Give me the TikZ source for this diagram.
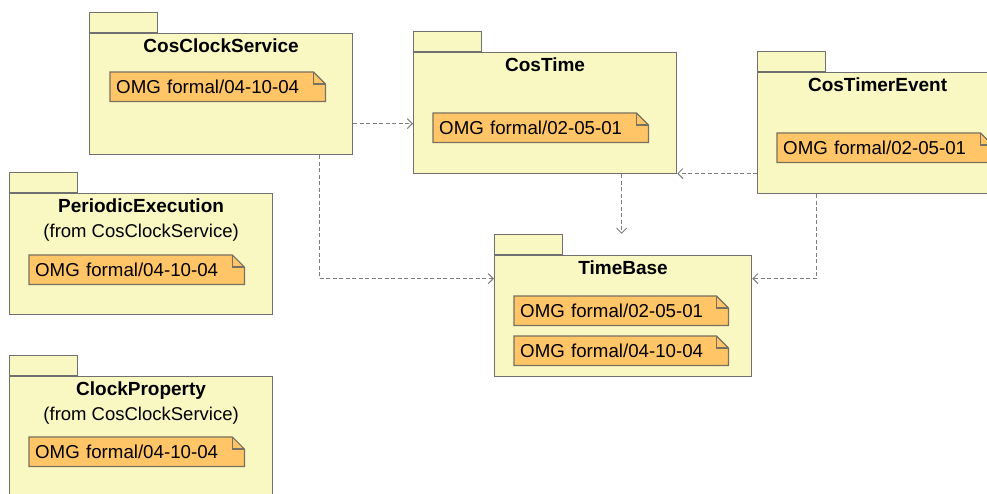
\documentclass[tikz,border=0pt]{standalone}
\usepackage{fontspec}
\setmainfont{Liberation Sans}
\usetikzlibrary{arrows.meta,positioning}
\definecolor{pkgFill}{RGB}{249,248,194}
\definecolor{pkgLine}{RGB}{112,112,112}
\definecolor{noteFill}{RGB}{255,197,102}
\definecolor{noteLine}{RGB}{120,112,96}
\definecolor{depLine}{RGB}{125,125,125}
\pgfdeclarelayer{pkgLayer}
\pgfdeclarelayer{noteLayer}
\pgfsetlayers{pkgLayer,noteLayer,main}
\tikzset{
  pkg/.style={draw=pkgLine, line width=1.2pt, fill=pkgFill, anchor=north west, minimum width=263pt, minimum height=121pt, inner sep=0pt},
  pkgtab/.style={draw=pkgLine, line width=1.2pt, fill=pkgFill, anchor=south west, minimum width=68pt, minimum height=20pt, inner sep=0pt},
  pkgtitle/.style={font=\bfseries\fontsize{19}{22}\selectfont, inner sep=0pt},
  pkgfrom/.style={font=\fontsize{18.5}{22}\selectfont, inner sep=0pt},
  notebox/.style={anchor=north west, minimum height=29pt, text width=203pt, inner xsep=6pt, inner ysep=0pt, align=left, font=\fontsize{18.7}{22}\selectfont},
  notefold/.style={draw=noteLine, line width=1.2pt, fill=noteFill},
  dep/.style={draw=depLine, line width=1pt, dash pattern=on 4pt off 2.5pt, -{Straight Barb[length=5pt,width=10pt]}}
}
\begin{document}
\begin{tikzpicture}[x=1pt, y=-1pt]
  \useasboundingbox (0,0) rectangle (987,493);
  \begin{pgfonlayer}{pkgLayer}
    \node[pkg] (cs) at (89,33) {};
    \node[pkg] (ct) at (413,52) {};
    \node[pkg, minimum width=240pt] (te) at (757,72) {};
    \node[pkg] (pe) at (9,193) {};
    \node[pkg] (cp) at (9,376) {};
    \node[pkg, minimum width=257pt] (tb) at (494,255) {};
    \foreach \p in {cs,ct,te,pe,cp,tb}
      \node[pkgtab, above right=0pt of \p.north west] (\p-tab) {};
  \end{pgfonlayer}

  \node[pkgtitle, below=5.5pt of cs.north] (cs-t) {CosClockService};
  \node[pkgtitle, below=6pt of ct.north] (ct-t) {CosTime};
  \node[pkgtitle, below=6pt of te.north] (te-t) {CosTimerEvent};
  \node[pkgtitle, below=6pt of pe.north] (pe-t) {PeriodicExecution};
  \node[pkgfrom, below=10.5pt of pe-t] (pe-f) {(from CosClockService)};
  \node[pkgtitle, below=6pt of cp.north] (cp-t) {ClockProperty};
  \node[pkgfrom, below=7pt of cp-t] (cp-f) {(from CosClockService)};
  \node[pkgtitle, below=6pt of tb.north] (tb-t) {TimeBase};

  \node[notebox, below right=39pt and 21pt of cs.north west] (cs-n) {OMG formal/04-10-04};
  \node[notebox, below right=61pt and 20pt of ct.north west] (ct-n) {OMG formal/02-05-01};
  \node[notebox, below right=61pt and 20pt of te.north west] (te-n) {OMG formal/02-05-01};
  \node[notebox, below right=62pt and 20pt of pe.north west] (pe-n) {OMG formal/04-10-04};
  \node[notebox, below right=61pt and 20pt of cp.north west] (cp-n) {OMG formal/04-10-04};
  \node[notebox, below right=41pt and 20pt of tb.north west, text width=202pt] (tb-n1) {OMG formal/02-05-01};
  \node[notebox, below right=81pt and 20pt of tb.north west, text width=202pt] (tb-n2) {OMG formal/04-10-04};

  \begin{pgfonlayer}{noteLayer}
    \foreach \n in {cs-n,ct-n,te-n,pe-n,cp-n,tb-n1,tb-n2} {
      \filldraw[notefold] (\n.south west) -- (\n.north west) -- ([xshift=-12pt]\n.north east)
        -- ([yshift=-12pt]\n.north east) -- (\n.south east) -- cycle;
      \draw[notefold, fill=none] ([xshift=-12pt]\n.north east) -- ([xshift=-12pt,yshift=-12pt]\n.north east)
        -- ([yshift=-12pt]\n.north east);
    }
  \end{pgfonlayer}

  \coordinate (d1) at ([yshift=-29.5pt]cs.east);
  \coordinate (d2) at ([xshift=98.5pt]cs.south);
  \coordinate (d3) at ([xshift=76.5pt]ct.south);
  \coordinate (d4) at ([yshift=-40.5pt]te.west);
  \coordinate (d5) at ([xshift=-61pt]te.south);
  \draw[dep] (d1) -- (d1 -| ct.west);
  \draw[dep] (d2) |- ([yshift=37.5pt]tb.west);
  \draw[dep] (d3) -- (d3 |- tb-tab.north);
  \draw[dep] (d4) -- (d4 -| ct.east);
  \draw[dep] (d5) |- ([yshift=37.5pt]tb.east);
\end{tikzpicture}
\end{document}
